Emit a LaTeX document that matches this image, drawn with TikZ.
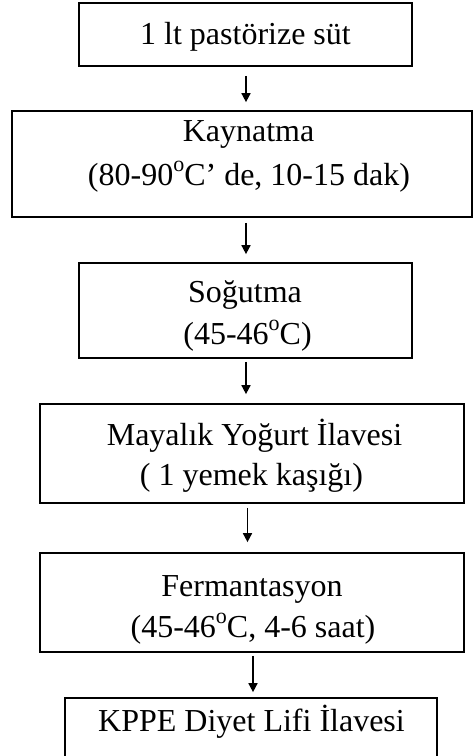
\documentclass[tikz,border=0pt]{standalone}
\usepackage{fontspec}
\setmainfont{Liberation Serif}
\usetikzlibrary{arrows.meta}

% degree sign written as a raised small "o"
\newcommand{\dego}{\raisebox{0.42em}{\fontsize{22}{22}\selectfont o}}

\begin{document}
\begin{tikzpicture}[x=1pt,y=-1pt,
  stepbox/.style={draw,line width=1.7pt,rectangle,inner sep=0pt},
  steptext/.style={anchor=base,inner sep=0pt,font=\fontsize{32}{38}\selectfont},
  flow/.style={line width=1.6pt,-{Triangle[length=9pt,width=9pt]}}]
  \useasboundingbox (0,0) rectangle (473,756);
  \clip (0,0) rectangle (473,756);
  \fill[white] (0,0) rectangle (473,756);

  % process boxes
  \node[stepbox,minimum width=333pt,minimum height=63pt]  (b1) at (245.5,34.5) {};
  \node[stepbox,minimum width=460pt,minimum height=106pt] (b2) at (242,164) {};
  \node[stepbox,minimum width=333pt,minimum height=95pt]  (b3) at (245.5,310.5) {};
  \node[stepbox,minimum width=424pt,minimum height=99pt]  (b4) at (252,453.5) {};
  \node[stepbox,minimum width=424pt,minimum height=99pt]  (b5) at (252,602.5) {};
  \node[stepbox,minimum width=372pt,minimum height=100pt] (b6) at (251,748) {};

  % box texts, one node per line, placed on the baseline
  \node[steptext] (t1)  at (245.5,44)  {1 lt pastörize süt};
  \node[steptext] (t2a) at (248.5,141) {Kaynatma};
  \node[steptext] (t2b) at (249,185)   {(80-90\dego C’ de, 10-15 dak)};
  \node[steptext] (t3a) at (245,302)   {Soğutma};
  \node[steptext] (t3b) at (247.5,344) {(45-46\dego C)};
  \node[steptext] (t4a) at (254.5,445) {Mayalık Yoğurt İlavesi};
  \node[steptext] (t4b) at (251.5,485) {( 1 yemek kaşığı)};
  \node[steptext] (t5a) at (252,596)   {Fermantasyon};
  \node[steptext] (t5b) at (253,637)   {(45-46\dego C, 4-6 saat)};
  \node[steptext] (t6)  at (251.5,731) {KPPE Diyet Lifi İlavesi};

  % arrow columns
  \coordinate (a1) at (246,0);
  \coordinate (a2) at (246,0);
  \coordinate (a3) at (246,0);
  \coordinate (a4) at (247.5,0);
  \coordinate (a5) at (253,0);

  % connectors
  \draw[flow,shorten <=9pt,shorten >=8pt]  (b1.south -| a1) -- (b2.north -| a1);
  \draw[flow,shorten <=5pt,shorten >=8pt]  (b2.south -| a2) -- (b3.north -| a2);
  \draw[flow,shorten <=3pt,shorten >=9pt]  (b3.south -| a3) -- (b4.north -| a3);
  \draw[flow,shorten <=4pt,shorten >=10pt] (b4.south -| a4) -- (b5.north -| a4);
  \draw[flow,shorten <=3pt,shorten >=5pt]  (b5.south -| a5) -- (b6.north -| a5);
\end{tikzpicture}
\end{document}
